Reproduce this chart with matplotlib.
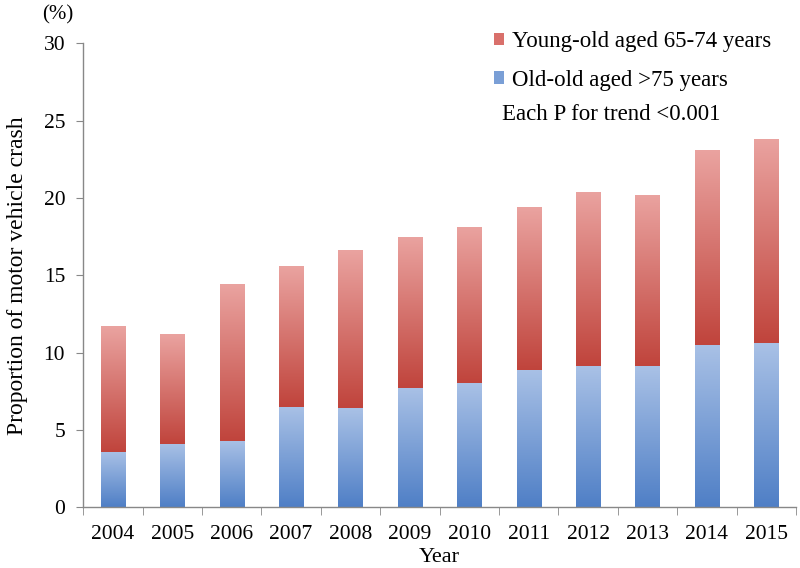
import numpy as np
import matplotlib.pyplot as plt
from matplotlib.colors import LinearSegmentedColormap
from matplotlib.patches import Patch

plt.rcParams['font.family'] = ['Liberation Serif', 'DejaVu Serif']

years = ['2004', '2005', '2006', '2007', '2008', '2009', '2010', '2011', '2012', '2013', '2014', '2015']
old_old = [3.6, 4.1, 4.3, 6.5, 6.4, 7.7, 8.0, 8.9, 9.1, 9.1, 10.5, 10.6]
total = [11.7, 11.2, 14.4, 15.6, 16.6, 17.5, 18.1, 19.4, 20.4, 20.2, 23.1, 23.8]
young_old = [t - o for t, o in zip(total, old_old)]

red_cmap = LinearSegmentedColormap.from_list('red', ['#c0443c', '#eaa3a0'])
blue_cmap = LinearSegmentedColormap.from_list('blue', ['#4f7fc6', '#a9c1e6'])

fig = plt.figure(figsize=(8, 5.68), dpi=100)
ax = fig.add_axes([0.104, 0.107, 0.891, 0.817])

x = np.arange(len(years))
width = 0.41
grad = np.linspace(0, 1, 256).reshape(-1, 1)

blue_bars = ax.bar(x, old_old, width, color='none', edgecolor='none')
red_bars = ax.bar(x, young_old, width, bottom=old_old, color='none', edgecolor='none')

# gradient fill clipped to each bar
for bars, cmap in [(blue_bars, blue_cmap), (red_bars, red_cmap)]:
    for b in bars:
        x0, y0 = b.get_x(), b.get_y()
        im = ax.imshow(grad, cmap=cmap, origin='lower', aspect='auto',
                       extent=[x0, x0 + b.get_width(), y0, y0 + b.get_height()],
                       interpolation='bilinear', zorder=2)
        im.set_clip_path(b)

ax.set_xlim(-0.5, len(years) - 0.5)
ax.set_ylim(0, 30)
ax.set_yticks([0, 5, 10, 15, 20, 25, 30])
ax.set_xticks(x)
ax.set_xticklabels(years)
ax.set_xticks(np.arange(-0.5, len(years), 1), minor=True)
ax.tick_params(axis='x', which='major', length=0, labelsize=15.5, pad=13)
ax.tick_params(axis='x', which='minor', length=6, color='#888888', direction='out')
ax.tick_params(axis='y', length=5, color='#888888', labelsize=15.5, pad=8)

for s in ['top', 'right']:
    ax.spines[s].set_visible(False)
for s in ['left', 'bottom']:
    ax.spines[s].set_color('#888888')
    ax.spines[s].set_linewidth(1)

ax.set_xlabel('Year', fontsize=16, labelpad=3)
ax.set_ylabel('Proportion of motor vehicle crash', fontsize=17, labelpad=11)
fig.text(0.0725, 0.973, '(%)', fontsize=15, ha='center', va='center')

handles = [Patch(facecolor='#d9706b', edgecolor='none'),
           Patch(facecolor='#7a9fd6', edgecolor='none')]
leg = ax.legend(handles, ['Young-old aged 65-74 years', 'Old-old aged >75 years'],
                loc='upper left', bbox_to_anchor=(0.563, 1.045), frameon=False,
                fontsize=16.5, handlelength=0.45, handleheight=0.45, handletextpad=0.35,
                labelspacing=0.75, borderaxespad=0)
fig.text(0.628, 0.799, 'Each P for trend <0.001', fontsize=16.5, ha='left', va='center')

fig.savefig('out.png', dpi=100)
